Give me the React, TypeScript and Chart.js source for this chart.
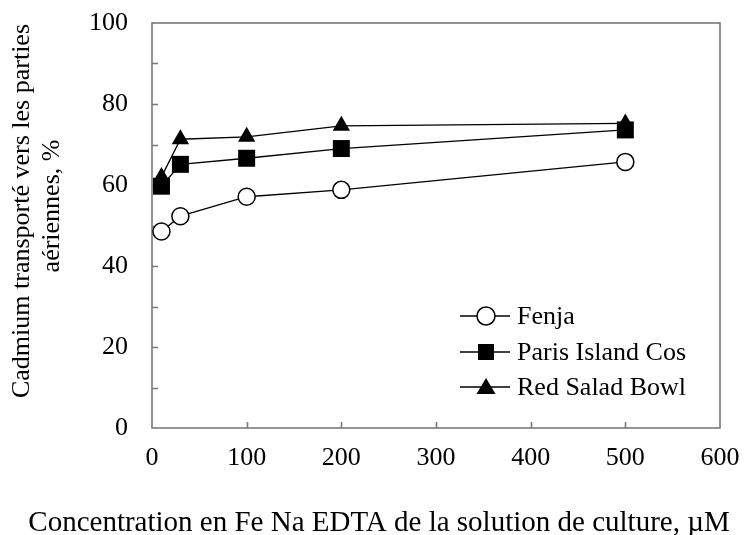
import React, { useEffect, useRef } from "react";
import { Chart, registerables } from "chart.js";

Chart.register(...registerables);

const concentrations = [10, 30, 100, 200, 500];
const fenja = [48.5, 52.3, 57.1, 58.8, 65.7];
const parisIslandCos = [59.7, 65.1, 66.6, 69.0, 73.6];
const redSaladBowl = [62.0, 71.3, 71.9, 74.6, 75.2];
const seriesNames = ["Fenja", "Paris Island Cos", "Red Salad Bowl"];
const xTitle = "Concentration en Fe Na EDTA de la solution de culture, µM";
const yTitleLines = ["Cadmium transporté vers les parties", "aériennes, %"];

const FONT = "'Liberation Serif', 'Times New Roman', serif";

export default function App() {
  const ref = useRef<HTMLCanvasElement | null>(null);

  useEffect(() => {
    document.body.style.margin = "0";
    const canvas = ref.current;
    if (!canvas) return;

    const toPts = (ys: number[]) => concentrations.map((x, i) => ({ x, y: ys[i] }));

    const framePlugin = {
      id: "frame",
      beforeDatasetsDraw(chart: any) {
        const { ctx, chartArea, scales } = chart;
        const xs = scales.x;
        const ys = scales.y;
        ctx.save();
        ctx.strokeStyle = "#7a7a7a";
        ctx.lineWidth = 1.6;
        ctx.strokeRect(chartArea.left, chartArea.top, chartArea.right - chartArea.left, chartArea.bottom - chartArea.top);
        ctx.beginPath();
        for (let v = 10; v < 100; v += 10) {
          const py = Math.round(ys.getPixelForValue(v)) + 0.5;
          ctx.moveTo(chartArea.left, py);
          ctx.lineTo(chartArea.left + 6, py);
        }
        for (let v = 100; v < 600; v += 100) {
          const px = Math.round(xs.getPixelForValue(v)) + 0.5;
          ctx.moveTo(px, chartArea.bottom);
          ctx.lineTo(px, chartArea.bottom - 6);
        }
        ctx.stroke();
        ctx.restore();
      },
      afterDraw(chart: any) {
        const { ctx } = chart;
        ctx.save();
        ctx.fillStyle = "#000";
        // x title
        ctx.font = `29px ${FONT}`;
        ctx.textAlign = "center";
        ctx.textBaseline = "alphabetic";
        ctx.fillText(xTitle, 379, 531);
        // y title
        ctx.font = `26px ${FONT}`;
        ctx.save();
        ctx.rotate(-Math.PI / 2);
        ctx.textAlign = "center";
        ctx.fillText(yTitleLines[0], -211, 29);
        ctx.fillText(yTitleLines[1], -206, 59);
        ctx.restore();

        // legend
        const rows = [316, 352, 387];
        chart.data.datasets.forEach((ds: any, i: number) => {
          const y = rows[i];
          ctx.strokeStyle = "#000";
          ctx.lineWidth = 1.3;
          ctx.beginPath();
          ctx.moveTo(460, y);
          ctx.lineTo(510, y);
          ctx.stroke();
          const cx = 486;
          ctx.lineWidth = 1.5;
          ctx.beginPath();
          if (ds.pointStyle === "circle") {
            ctx.arc(cx, y, 9, 0, Math.PI * 2);
            ctx.fillStyle = "#fff";
            ctx.fill();
            ctx.stroke();
          } else if (ds.pointStyle === "rect") {
            ctx.fillStyle = "#000";
            ctx.fillRect(cx - 8, y - 8, 16, 16);
          } else {
            ctx.moveTo(cx, y - 9);
            ctx.lineTo(cx + 9.5, y + 7);
            ctx.lineTo(cx - 9.5, y + 7);
            ctx.closePath();
            ctx.fillStyle = "#000";
            ctx.fill();
          }
          ctx.fillStyle = "#000";
          ctx.textAlign = "left";
          ctx.textBaseline = "middle";
          ctx.font = `26px ${FONT}`;
          ctx.fillText(ds.label, 517, y + 1);
        });
        ctx.restore();
      },
    };

    const chart = new Chart(canvas, {
      type: "line",
      data: {
        datasets: [
          {
            label: seriesNames[0],
            data: toPts(fenja),
            borderColor: "#000",
            borderWidth: 1.3,
            pointStyle: "circle",
            pointRadius: 8.5,
            pointBackgroundColor: "#fff",
            pointBorderColor: "#000",
            pointBorderWidth: 1.5,
          },
          {
            label: seriesNames[1],
            data: toPts(parisIslandCos),
            borderColor: "#000",
            borderWidth: 1.3,
            pointStyle: "rect",
            pointRadius: 12,
            pointBackgroundColor: "#000",
            pointBorderColor: "#000",
            pointBorderWidth: 0,
          },
          {
            label: seriesNames[2],
            data: toPts(redSaladBowl),
            borderColor: "#000",
            borderWidth: 1.3,
            pointStyle: "triangle",
            pointRadius: 10,
            pointBackgroundColor: "#000",
            pointBorderColor: "#000",
            pointBorderWidth: 0,
          },
        ],
      },
      options: {
        animation: false,
        responsive: true,
        maintainAspectRatio: false,
        layout: { padding: { top: 23, right: 24, left: 0, bottom: 0 } },
        plugins: { legend: { display: false }, tooltip: { enabled: false } },
        scales: {
          x: {
            type: "linear",
            min: 0,
            max: 600,
            grid: { display: false, drawTicks: true, tickLength: 15 },
            border: { display: false },
            ticks: { stepSize: 100, color: "#000", padding: 0, font: { family: FONT, size: 26 } },
            afterFit: (s: any) => {
              s.height = 107;
            },
          },
          y: {
            min: 0,
            max: 100,
            grid: { display: false, drawTicks: true, tickLength: 24 },
            border: { display: false },
            ticks: { stepSize: 20, color: "#000", padding: 0, font: { family: FONT, size: 26 } },
            afterFit: (s: any) => {
              s.width = 152;
            },
          },
        },
      },
      plugins: [framePlugin],
    } as any);

    return () => chart.destroy();
  }, []);

  return (
    <div style={{ width: 744, height: 535, position: "relative" }}>
      <canvas ref={ref} />
    </div>
  );
}
